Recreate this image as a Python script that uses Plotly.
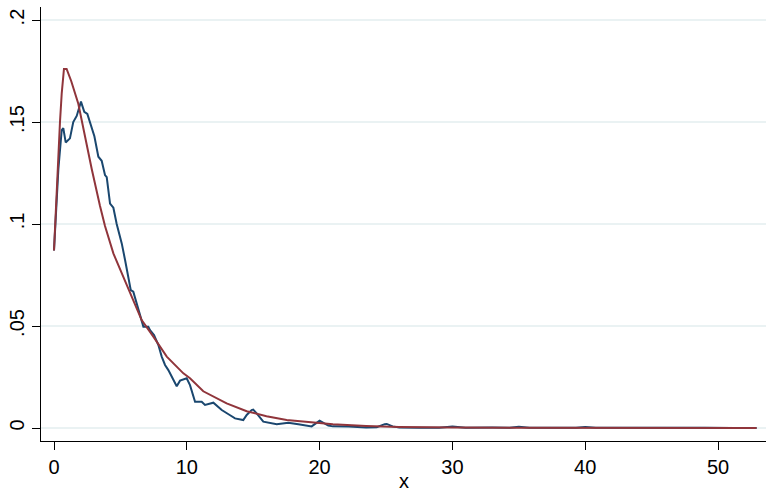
import plotly.graph_objects as go

# Kernel density estimate (navy)
kde_x = [0, 0.15, 0.33, 0.58, 0.70, 0.88, 1.2, 1.45, 1.71, 2.03, 2.28, 2.51, 2.84, 3.04,
         3.34, 3.59, 3.84, 3.97, 4.22, 4.47, 4.72, 4.92, 5.10, 5.35, 5.6, 5.78, 5.97, 6.22,
         6.48, 6.73, 7.1, 7.23, 7.53, 7.86, 8.11, 8.36, 8.61, 8.86, 9.11, 9.24, 9.49, 9.99,
         10.24, 10.62, 11.12, 11.37, 12.0, 12.63, 13.2, 13.63, 14.25, 14.51, 14.88, 15.0,
         15.26, 15.76, 16.77, 17.64, 18.4, 19.4, 20.0, 20.65, 21.0, 22.2, 23.5, 24.3, 24.9,
         25.05, 25.5, 26.0, 27.5, 29.0, 30.0, 31.0, 33.0, 34.3, 35.0, 35.8, 38.0, 39.3, 40.0,
         40.8, 43.0, 45.0, 47.0, 49.0, 51.0, 52.9]
kde_y = [0.087, 0.107, 0.127, 0.146, 0.147, 0.140, 0.142, 0.150, 0.153, 0.160, 0.155, 0.154,
         0.147, 0.143, 0.133, 0.131, 0.124, 0.123, 0.110, 0.108, 0.100, 0.0954, 0.0905, 0.0824,
         0.0742, 0.0676, 0.0668, 0.0611, 0.0546, 0.0497, 0.0497, 0.048, 0.0456, 0.0407, 0.035,
         0.0309, 0.0284, 0.0251, 0.022, 0.0205, 0.0232, 0.0244, 0.021, 0.0129, 0.0129, 0.0113,
         0.0124, 0.0088, 0.0065, 0.0047, 0.0039, 0.0064, 0.0088, 0.009, 0.0072, 0.0031, 0.0018,
         0.0026, 0.0018, 0.0008, 0.0036, 0.0012, 0.0008, 0.0007, 0.0002, 0.0004, 0.0019, 0.002,
         0.0008, 0.0003, 0.0001, 0.0001, 0.0007, 0.0001, 0.0002, 0.0001, 0.0006, 0.0001, 0.0001,
         0.0001, 0.0005, 0.0001, 0.0001, 0.0002, 0.0001, 0.0001, 0.0, 0.0]

# Fitted density (maroon)
fit_x = [0, 0.1, 0.28, 0.45, 0.58, 0.75, 0.95, 1.3, 1.83, 2.3, 2.84, 3.46, 3.84, 4.47, 5.1,
         5.6, 6.6, 7.48, 8.49, 9.74, 10.24, 11.24, 13.0, 14.51, 16.0, 17.52, 19.5, 21.0, 23.5,
         26.0, 30, 35, 40, 45, 52.9]
fit_y = [0.087, 0.103, 0.127, 0.150, 0.164, 0.176, 0.176, 0.170, 0.159, 0.1435, 0.127, 0.109,
         0.099, 0.0856, 0.0758, 0.0676, 0.0529, 0.0448, 0.035, 0.0268, 0.0244, 0.018, 0.0121,
         0.0082, 0.0058, 0.0039, 0.0028, 0.0018, 0.0010, 0.0005, 0.0002, 0.0001, 0.0, 0.0, 0.0]

x_ticks = [0, 10, 20, 30, 40, 50]
y_ticks = [0, 0.05, 0.1, 0.15, 0.2]
y_labels = ["0", ".05", ".1", ".15", ".2"]
x_title = "x"

navy = "#1a476f"
maroon = "#90353b"
font = "Liberation Sans, Arial, Helvetica, sans-serif"

fig = go.Figure()
fig.add_trace(go.Scatter(x=kde_x, y=kde_y, mode="lines",
                         line=dict(color=navy, width=2), showlegend=False))
fig.add_trace(go.Scatter(x=fit_x, y=fit_y, mode="lines",
                         line=dict(color=maroon, width=2), showlegend=False))

fig.add_annotation(text=x_title, xref="paper", yref="paper", x=0.5, y=-0.1198,
                   xanchor="center", yanchor="bottom", showarrow=False, borderpad=0,
                   font=dict(family=font, size=20, color="black"))

fig.update_layout(
    width=766, height=493,
    margin=dict(l=41, r=0, t=7, b=52),
    paper_bgcolor="white", plot_bgcolor="white",
    font=dict(family=font, size=20, color="black"),
    xaxis=dict(
        range=[-0.979, 53.61], tickvals=x_ticks, ticks="outside", ticklen=8,
        tickwidth=1, tickcolor="black", showline=True, linecolor="black", linewidth=1,
        showgrid=False, zeroline=False, automargin=False,
        tickfont=dict(size=20),
    ),
    yaxis=dict(
        range=[-0.00637, 0.2064], tickvals=y_ticks, ticktext=y_labels, ticks="outside",
        ticklen=8, tickwidth=1, tickcolor="black", showline=True, linecolor="black",
        linewidth=1, showgrid=True, gridcolor="#eaf2f3", gridwidth=1.5, zeroline=False,
        tickangle=-90, tickfont=dict(size=20), automargin=False,
    ),
)

fig.write_html(
    "out.html",
    config={"displayModeBar": False},
    post_script="document.body.style.margin='0';document.body.style.padding='0';"
                "document.documentElement.style.overflow='hidden';",
)
